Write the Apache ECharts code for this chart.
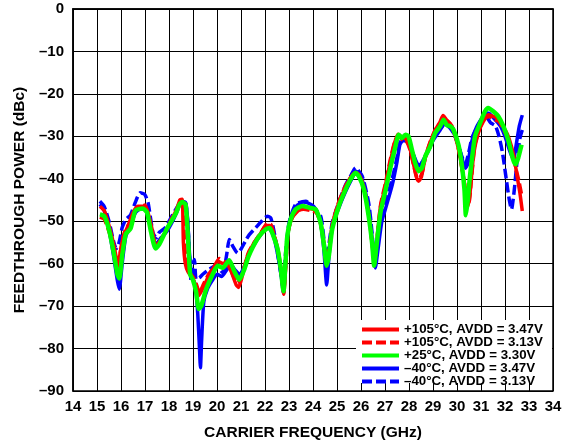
<!DOCTYPE html>
<html><head><meta charset="utf-8">
<script src="https://cdn.jsdelivr.net/npm/echarts@6/dist/echarts.min.js"></script>
<style>html,body{margin:0;padding:0;background:#fff}#c{width:566px;height:446px}</style>
</head><body><div id="c"></div>
<script>
const xTicks = [14,15,16,17,18,19,20,21,22,23,24,25,26,27,28,29,30,31,32,33,34];
const yTicks = [0,-10,-20,-30,-40,-50,-60,-70,-80,-90];
const seriesNames = ["+105°C, AVDD = 3.47V","+105°C, AVDD = 3.13V","+25°C, AVDD = 3.30V","–40°C, AVDD = 3.47V","–40°C, AVDD = 3.13V"];

const red347 = [[15.12,-46.5],[15.3,-47.5],[15.5,-51],[15.7,-55.5],[15.87,-60],[15.95,-58],[16.1,-53.5],[16.3,-51],[16.5,-48],[16.7,-46.5],[16.95,-46.5],[17.1,-47.5],[17.3,-52],[17.45,-55.8],[17.65,-54.5],[17.9,-52],[18.1,-49.5],[18.3,-47.5],[18.45,-45],[18.55,-44.8],[18.6,-55],[18.68,-60],[18.8,-62],[19.0,-63.5],[19.15,-66],[19.22,-67.6],[19.35,-66.5],[19.6,-63.5],[19.85,-61],[20.05,-59.5],[20.25,-60],[20.45,-60.3],[20.6,-62],[20.8,-65],[20.9,-65.6],[21.05,-63],[21.25,-58.5],[21.5,-55.5],[21.8,-53],[22.05,-51],[22.2,-51],[22.38,-53.5],[22.55,-57],[22.68,-62],[22.78,-67.2],[22.86,-61],[22.95,-53],[23.1,-49.5],[23.3,-48],[23.55,-47],[23.85,-47],[24.1,-47.5],[24.3,-50],[24.45,-55],[24.56,-60.5],[24.66,-57.5],[24.8,-51],[25.05,-46],[25.35,-42],[25.55,-39.8],[25.77,-38.5],[25.92,-39],[26.12,-42],[26.32,-48.5],[26.46,-55],[26.56,-60.3],[26.64,-56],[26.8,-47],[27.0,-42],[27.2,-36.5],[27.4,-31.5],[27.55,-29.5],[27.7,-30.2],[27.85,-30.5],[28.0,-32],[28.15,-35.5],[28.3,-39.5],[28.4,-40.6],[28.52,-39.5],[28.68,-35],[28.88,-31.5],[29.1,-28.5],[29.3,-26.5],[29.42,-25.1],[29.55,-26],[29.72,-27],[29.9,-29.5],[30.1,-34],[30.25,-39],[30.4,-44],[30.47,-46.4],[30.55,-43],[30.7,-34],[30.9,-29],[31.1,-26.5],[31.3,-24.9],[31.5,-25.3],[31.7,-25.7],[31.9,-27.5],[32.1,-29.5],[32.27,-32.4],[32.4,-35.5],[32.48,-38.6],[32.62,-43.3],[32.72,-47.6]];

const red313 = [[15.12,-49],[15.3,-49.5],[15.5,-52.5],[15.7,-56.5],[15.88,-61],[15.98,-57],[16.15,-52.5],[16.35,-50.5],[16.55,-47.8],[16.75,-46.8],[17.0,-46.2],[17.12,-48],[17.3,-52.5],[17.47,-56],[17.7,-54],[17.95,-51.5],[18.15,-49],[18.35,-47],[18.5,-45.3],[18.58,-45.8],[18.64,-54],[18.72,-60],[18.85,-62],[19.05,-63.5],[19.18,-65.5],[19.27,-67],[19.42,-65],[19.65,-62.5],[19.9,-60.5],[20.1,-58.8],[20.3,-59.5],[20.5,-60],[20.65,-62.5],[20.83,-64.5],[20.95,-64],[21.1,-61.5],[21.3,-57.5],[21.55,-55],[21.85,-52.5],[22.1,-50.5],[22.25,-50.8],[22.4,-53.5],[22.57,-58],[22.7,-63],[22.78,-66.5],[22.88,-59],[22.98,-52],[23.15,-49],[23.35,-47.5],[23.6,-47.2],[23.9,-47.5],[24.15,-48],[24.33,-51],[24.47,-56],[24.56,-59.5],[24.67,-56.5],[24.82,-50.5],[25.07,-45.5],[25.37,-41.5],[25.6,-39.5],[25.78,-38.8],[25.95,-39.5],[26.15,-43],[26.33,-49],[26.48,-56],[26.57,-59.5],[26.66,-54.5],[26.82,-46],[27.02,-41],[27.22,-35.5],[27.42,-31],[27.58,-30],[27.72,-30.8],[27.88,-31],[28.03,-33],[28.18,-36.5],[28.32,-39.5],[28.42,-40],[28.55,-38.5],[28.7,-34.5],[28.9,-31],[29.12,-28.2],[29.32,-26.8],[29.45,-25.8],[29.6,-26.5],[29.78,-27.5],[29.95,-30],[30.13,-35],[30.28,-40],[30.42,-45],[30.5,-45.5],[30.6,-40],[30.75,-32],[30.95,-28],[31.15,-25.8],[31.35,-25.3],[31.55,-26],[31.75,-26.5],[31.95,-28.5],[32.15,-31],[32.3,-34],[32.45,-37.5],[32.58,-40.5],[32.7,-44]];

const green330 = [[15.12,-48.4],[15.3,-48.8],[15.5,-52],[15.7,-57.5],[15.85,-62.5],[15.93,-63.5],[16.05,-58],[16.2,-53],[16.4,-51.7],[16.6,-47.5],[16.9,-47],[17.08,-47.9],[17.25,-52.5],[17.44,-56.4],[17.6,-55.4],[17.9,-51.9],[18.1,-50],[18.3,-48],[18.44,-46],[18.55,-45.5],[18.69,-46],[18.78,-52.6],[18.88,-62.5],[18.99,-63.7],[19.13,-66.7],[19.24,-70.7],[19.34,-70],[19.55,-66],[19.82,-62.5],[20.03,-60.5],[20.24,-61],[20.51,-59.2],[20.7,-61.5],[20.93,-63.8],[21.14,-61.3],[21.3,-58.5],[21.5,-56],[21.76,-53.5],[22.04,-51.9],[22.2,-51.6],[22.35,-53.5],[22.52,-56.5],[22.66,-61.3],[22.77,-66.5],[22.85,-60],[22.93,-53.5],[23.07,-49.6],[23.28,-47.2],[23.56,-46.4],[23.83,-46.8],[24.11,-47.2],[24.32,-50.4],[24.46,-55.8],[24.57,-60.5],[24.66,-58.2],[24.8,-51.9],[25.08,-46.4],[25.36,-42.5],[25.56,-40.2],[25.77,-38.6],[25.91,-39.4],[26.12,-42.5],[26.32,-48.8],[26.46,-55],[26.55,-60.5],[26.63,-56.6],[26.81,-48],[27.01,-43],[27.22,-37.5],[27.43,-32.5],[27.57,-29.6],[27.71,-30.4],[27.85,-29.6],[27.98,-30],[28.12,-33.1],[28.26,-36.3],[28.4,-38.2],[28.54,-37.4],[28.68,-34.7],[28.88,-32.4],[29.09,-29.2],[29.3,-27.6],[29.44,-26.1],[29.57,-27.3],[29.71,-27.6],[29.85,-28.4],[30.06,-32],[30.19,-36.3],[30.31,-42.5],[30.37,-48.6],[30.45,-45],[30.54,-39.4],[30.75,-30],[30.96,-26.9],[31.17,-24.1],[31.3,-23.3],[31.51,-24.1],[31.72,-25.3],[31.93,-27.6],[32.13,-30.8],[32.34,-35.5],[32.44,-36.6],[32.55,-35.1],[32.69,-32]];

const blue347 = [[15.12,-46],[15.3,-47.5],[15.5,-52],[15.7,-58.5],[15.85,-64],[15.93,-66],[16.05,-60],[16.2,-53.5],[16.4,-51],[16.6,-48],[16.85,-47],[17.05,-47.5],[17.25,-52],[17.45,-55.5],[17.65,-54],[17.9,-52.5],[18.15,-50],[18.35,-47.5],[18.5,-45.5],[18.7,-45.8],[18.78,-50],[18.86,-58],[18.95,-63],[19.1,-65],[19.2,-72],[19.27,-80],[19.31,-84.5],[19.36,-78],[19.45,-69],[19.6,-66],[19.8,-64],[20.0,-62.5],[20.2,-63],[20.4,-61.5],[20.55,-60],[20.75,-61.5],[20.95,-62.5],[21.15,-60.5],[21.35,-57.5],[21.6,-55],[21.85,-53],[22.05,-51.5],[22.2,-51.8],[22.38,-54],[22.55,-58.5],[22.68,-63],[22.77,-67],[22.86,-60],[22.95,-53],[23.1,-49],[23.3,-46.5],[23.6,-45.5],[23.9,-46],[24.1,-47],[24.3,-50],[24.45,-56.5],[24.57,-65],[24.67,-58],[24.82,-51],[25.1,-46.5],[25.4,-42.5],[25.6,-40.2],[25.8,-38.2],[26.0,-39.5],[26.2,-43.5],[26.35,-48.5],[26.5,-56],[26.6,-61],[26.7,-57],[26.87,-50],[27.05,-46.5],[27.3,-41.5],[27.5,-36],[27.62,-32],[27.75,-31],[27.9,-31.2],[28.05,-32.5],[28.2,-34.5],[28.35,-36.5],[28.47,-37],[28.6,-35.5],[28.8,-33.5],[29.0,-31],[29.3,-28.5],[29.5,-27],[29.7,-27.5],[29.85,-29],[30.05,-32],[30.2,-35],[30.35,-37.5],[30.45,-36.5],[30.6,-31.5],[30.8,-28],[31.0,-26],[31.2,-24.5],[31.35,-24.6],[31.5,-25.5],[31.7,-26.8],[31.85,-28],[32.0,-30],[32.2,-33.5],[32.35,-35.5],[32.48,-31.5],[32.6,-27.5],[32.72,-25]];

const blue313 = [[15.12,-45.3],[15.3,-46.5],[15.5,-50],[15.68,-54.5],[15.8,-56.5],[15.92,-55],[16.05,-51.5],[16.2,-49.6],[16.4,-48.5],[16.6,-45.5],[16.8,-43.3],[16.99,-43.7],[17.13,-45.7],[17.33,-52.7],[17.47,-53.9],[17.6,-52.6],[17.85,-51.5],[18.16,-48.4],[18.37,-46.4],[18.51,-45.3],[18.68,-45.5],[18.78,-50],[18.86,-59],[18.92,-64],[19.0,-60],[19.06,-59],[19.13,-63.7],[19.27,-63.3],[19.41,-62.5],[19.68,-61.3],[19.96,-60.5],[20.24,-62.1],[20.4,-58],[20.51,-54.3],[20.65,-55.8],[20.86,-57.5],[21.0,-56.6],[21.2,-54.5],[21.34,-53.2],[21.62,-51.5],[21.83,-50.2],[22.1,-48.8],[22.24,-49.2],[22.38,-52.5],[22.55,-58.5],[22.68,-63],[22.76,-66],[22.85,-58],[23.0,-50.4],[23.28,-46],[23.7,-45.3],[23.97,-46.4],[24.32,-48.8],[24.45,-54],[24.55,-60],[24.65,-56],[24.8,-50.4],[25.05,-46],[25.35,-41.5],[25.6,-39],[25.77,-37.4],[26.05,-39.4],[26.32,-45.7],[26.46,-52.7],[26.57,-59.8],[26.68,-55],[26.85,-49],[27.05,-45],[27.3,-40],[27.5,-35],[27.62,-31.5],[27.78,-30.5],[27.92,-31],[28.08,-33],[28.22,-35],[28.38,-37],[28.5,-36.5],[28.65,-35],[28.85,-32.5],[29.05,-30],[29.3,-28],[29.5,-27.2],[29.7,-28],[29.88,-29.5],[30.08,-32.5],[30.22,-35],[30.35,-36.5],[30.48,-34],[30.62,-30.5],[30.82,-28],[31.02,-26.5],[31.2,-25.3],[31.4,-26.8],[31.6,-27.5],[31.75,-30],[31.9,-34],[32.05,-40],[32.18,-45],[32.27,-47.2],[32.38,-43],[32.5,-36],[32.62,-30.5],[32.72,-28.5]];

const FONT = '"Liberation Sans", Arial, Helvetica, sans-serif';
const chart = echarts.init(document.getElementById('c'), null, {renderer:'canvas'});
function mk(name, data, color, width, dashed, z){
  return {name, type:'line', data, symbol:'none', showSymbol:false, smooth:0.2, z,
    lineStyle:{color, width, type: dashed ? [10,4] : 'solid', cap:'butt', join:'round'},
    itemStyle:{color}, emphasis:{disabled:true}};
}
chart.setOption({
  animation:false,
  backgroundColor:'#fff',
  grid:{left:73, top:9, right:13, bottom:54, show:true, borderColor:'#000', borderWidth:1.5, backgroundColor:'transparent'},
  xAxis:{type:'value', min:xTicks[0], max:xTicks[xTicks.length-1], interval:1,
    name:'CARRIER FREQUENCY (GHz)', nameLocation:'middle', nameGap:34,
    nameTextStyle:{fontFamily:FONT, fontWeight:'bold', fontSize:15.5, color:'#000'},
    axisLine:{show:true, lineStyle:{color:'#000', width:1.5}},
    axisTick:{show:false},
    axisLabel:{fontFamily:FONT, fontWeight:'bold', fontSize:15, color:'#000', margin:8},
    splitLine:{show:true, lineStyle:{color:'#000', width:1}}},
  yAxis:{type:'value', min:yTicks[yTicks.length-1], max:yTicks[0], interval:10,
    name:'FEEDTHROUGH POWER (dBc)', nameLocation:'middle', nameGap:44, nameRotate:90,
    nameTextStyle:{fontFamily:FONT, fontWeight:'bold', fontSize:15.5, color:'#000'},
    axisLine:{show:true, lineStyle:{color:'#000', width:1.5}},
    axisTick:{show:false},
    axisLabel:{fontFamily:FONT, fontWeight:'bold', fontSize:15, color:'#000', margin:9,
      formatter:v => String(v).replace('-', '–')},
    splitLine:{show:true, lineStyle:{color:'#000', width:1}}},
  graphic:[{type:'rect', shape:{x:356, y:320, width:196, height:63}, style:{fill:'#fff'}, z:3, silent:true}],
  legend:{show:true, orient:'vertical', left:360, top:323, padding:0, itemGap:0,
    itemWidth:37, itemHeight:10, selectedMode:false, z:5,
    itemStyle:{opacity:0, borderWidth:0},
    lineStyle:{width:4},
    textStyle:{fontFamily:FONT, fontWeight:'bold', fontSize:13.3, color:'#000', lineHeight:13},
    data:seriesNames},
  series:[
    mk(seriesNames[4], blue313, '#0000ff', 3.5, true, 2),
    mk(seriesNames[3], blue347, '#0000ff', 3.5, false, 3),
    mk(seriesNames[1], red313, '#ff0000', 3.5, true, 4),
    mk(seriesNames[0], red347, '#ff0000', 3.5, false, 5),
    mk(seriesNames[2], green330, '#00ff00', 4.5, false, 6)
  ]
});
</script></body></html>
